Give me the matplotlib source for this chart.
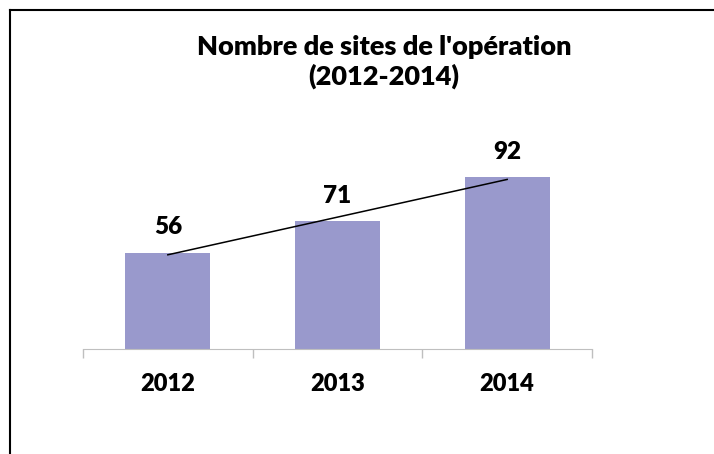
import numpy as np
import matplotlib.pyplot as plt
from matplotlib.lines import Line2D

years = ['2012', '2013', '2014']
sites = [56, 71, 92]
title = "Nombre de sites de l'opération\n(2012-2014)"

plt.rcParams['font.family'] = ['Lato', 'DejaVu Sans']

fig = plt.figure(figsize=(7.14, 4.54), dpi=100)
ax = fig.add_axes([83 / 714, 105 / 454, 509 / 714, 188.4 / 454])

x = np.arange(1, len(years) + 1)
ax.bar(x, sites, width=0.5, color='#9999cc', zorder=2)

# linear trendline
k, b = np.polyfit(x, sites, 1)
ax.plot(x, k * x + b, color='black', lw=1.1, zorder=3)

for xi, v in zip(x, sites):
    ax.annotate(str(v), (xi, v), xytext=(0, 18.5), textcoords='offset points',
                ha='center', va='center', fontsize=17.5, fontweight='heavy')

ax.set_xlim(0.5, len(years) + 0.5)
ax.set_ylim(10, 100)
ax.set_xticks(np.arange(0.5, len(years) + 1, 1))
ax.set_xticklabels([])
ax.set_xticks(x, minor=True)
ax.set_xticklabels(years, minor=True, fontsize=17, fontweight='heavy')
ax.tick_params(axis='x', which='major', length=6.5, color='#bfbfbf', width=1)
ax.tick_params(axis='x', which='minor', length=0, pad=17.5)
ax.set_yticks([])
for s in ['left', 'right', 'top']:
    ax.spines[s].set_visible(False)
ax.spines['bottom'].set_color('#bfbfbf')

fig.text(384 / 714, 1 - 62 / 454, title, ha='center', va='center',
         fontsize=19.5, fontweight='heavy', linespacing=1.2)

# chart border (left and top edges visible)
fig.add_artist(Line2D([10 / 714, 10 / 714], [0, 1 - 10 / 454], color='black', lw=1.5))
fig.add_artist(Line2D([10 / 714, 1], [1 - 10 / 454, 1 - 10 / 454], color='black', lw=1.5))

fig.savefig('out.png', dpi=100)
